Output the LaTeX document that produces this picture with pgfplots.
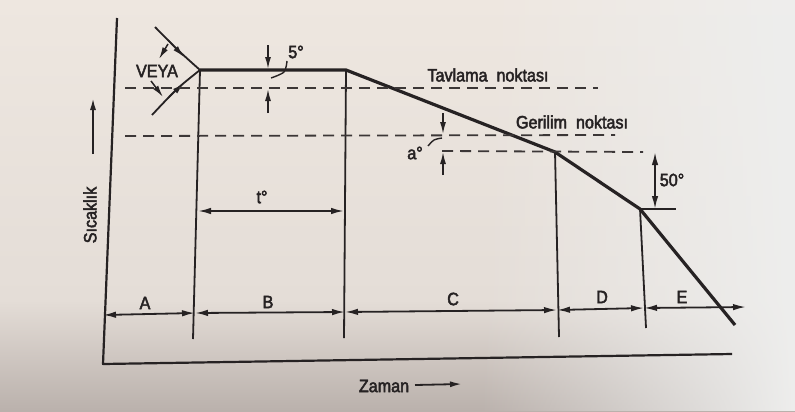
\documentclass[border=0pt]{standalone}
\usepackage{pgfplots}
\pgfplotsset{compat=1.18}
\usepackage{fontspec}
\setmainfont{Liberation Sans}[FakeBold=2.6, FakeStretch=0.9]
\usetikzlibrary{arrows.meta,fadings}

\definecolor{ink}{HTML}{262223}
\definecolor{dashink}{HTML}{3C3737}
\definecolor{paperTop}{HTML}{EEE7E0}
\definecolor{paperMid}{HTML}{E4DDD7}
\definecolor{paperLow}{HTML}{BAB1AC}
\definecolor{paperRight}{HTML}{EEEEED}
\tikzfading[name=fadeinright, left color=transparent!100, right color=transparent!0]

\tikzset{
  main/.style={ink, line width=3.2bp, line join=round},
  thin/.style={ink, line width=1.8bp, line join=round},
  dsh/.style={dashink, line width=1.8bp, dash pattern=on 11bp off 7bp},
  arr/.style={ink, line width=1.5bp, -{Latex[length=12bp,width=6bp]}},
  dim/.style={ink, line width=1.8bp, {Latex[length=13bp,width=6.5bp]}-{Latex[length=13bp,width=6.5bp]}},
  lbl/.style={ink, font=\fontsize{18}{21}\selectfont, inner sep=0pt},
}

\begin{document}
\begin{tikzpicture}[x=1bp,y=1bp]
% paper
\shade[top color=paperTop, bottom color=paperMid] (0,110) rectangle (795,411);
\shade[top color=paperMid, bottom color=paperLow] (0,0) rectangle (795,111);
\fill[paperRight, path fading=fadeinright] (480,0) rectangle (795,411);

\begin{axis}[
  at={(0,0)}, anchor=south west,
  width=795bp, height=411bp, scale only axis,
  xmin=0, xmax=795, ymin=0, ymax=411, y dir=reverse,
  hide axis, clip=false,
]
% axes of the diagram
\addplot[thin, line width=2.2bp] coordinates {(117,18) (103,364) (732,354)};
% annealing cycle
\addplot[main] coordinates {(200,70) (346,70) (555,152) (640,209) (735,325)};
% heating-in alternatives
\addplot[thin, smooth] coordinates {(155,27) (179,51) (200,70)};
\addplot[thin, smooth] coordinates {(152,115) (177,89) (200,70)};
\addplot[arr] coordinates {(168,40) (184,57)};
\addplot[arr] coordinates {(168,98) (184,83)};
\addplot[arr] coordinates {(168,44) (159,59)};
\addplot[arr] coordinates {(151,81) (163,97)};
% stage boundaries
\addplot[thin] coordinates {(200,70) (193,339)};
\addplot[thin] coordinates {(346,70) (344,338)};
\addplot[thin] coordinates {(555,152) (559,337)};
\addplot[thin] coordinates {(640,209) (646,328)};
% reference temperatures
\addplot[dsh] coordinates {(125,88) (598,88)};
\addplot[dsh] coordinates {(125,136) (615,135)};
\addplot[dsh] coordinates {(442,151) (643,152)};
% 5 degree band
\addplot[arr] coordinates {(268,45) (268,69)};
\addplot[arr] coordinates {(268,113) (268,89)};
\addplot[thin, line width=1.4bp, smooth] coordinates {(287,61) (284,72) (271,78)};
% a degree band
\addplot[arr] coordinates {(443,113) (443,134)};
\addplot[arr] coordinates {(443,175) (443,152)};
\addplot[thin, line width=1.4bp, smooth] coordinates {(428,146) (434,140) (442,138)};
% 50 degree drop
\addplot[dim] coordinates {(655,152) (655,209)};
\addplot[thin] coordinates {(640,209) (676,209)};
% holding time
\addplot[dim] coordinates {(198,211) (344,211)};
% stages along time
\addplot[dim] coordinates {(103,315) (195,313)};
\addplot[dim] coordinates {(195,313) (345,312)};
\addplot[dim] coordinates {(345,312) (557,310)};
\addplot[dim] coordinates {(557,310) (644,308)};
\addplot[dim] coordinates {(644,308) (746,307)};
% axis arrows
\addplot[arr, line width=1.8bp] coordinates {(93,154) (93,98)};
\addplot[arr, line width=1.8bp] coordinates {(415,385) (462,384)};

% labels
\node[lbl] at (axis cs:157,71) {VEYA};
\node[lbl] at (axis cs:296,52) {5°};
\node[lbl] at (axis cs:488,75) {Tavlama\hspace{0.5em}noktası};
\node[lbl] at (axis cs:572,122) {Gerilim\hspace{0.5em}noktası};
\node[lbl] at (axis cs:415,153) {a°};
\node[lbl] at (axis cs:672,180) {50°};
\node[lbl] at (axis cs:262,197) {t°};
\node[lbl] at (axis cs:145,303) {A};
\node[lbl] at (axis cs:268,302) {B};
\node[lbl] at (axis cs:453,299) {C};
\node[lbl] at (axis cs:602,297) {D};
\node[lbl] at (axis cs:682,297) {E};
\node[lbl] at (axis cs:384,386) {Zaman};
\node[lbl, rotate=90] at (axis cs:90,215) {Sıcaklık};
\end{axis}
\end{tikzpicture}
\end{document}
